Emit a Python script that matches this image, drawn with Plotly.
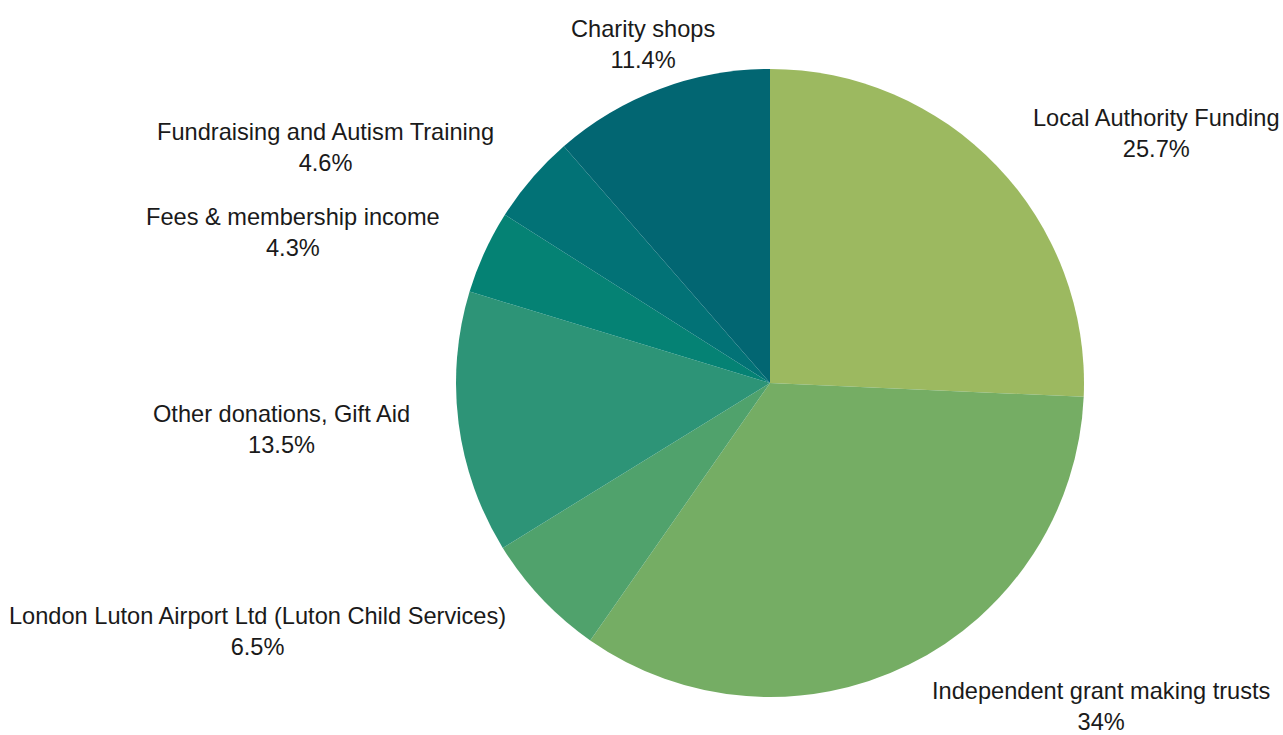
import math
import plotly.graph_objects as go

categories = [
    "Local Authority Funding",
    "Independent grant making trusts",
    "London Luton Airport Ltd (Luton Child Services)",
    "Other donations, Gift Aid",
    "Fees & membership income",
    "Fundraising and Autism Training",
    "Charity shops",
]
values = [25.7, 34, 6.5, 13.5, 4.3, 4.6, 11.4]
pct_labels = ["25.7%", "34%", "6.5%", "13.5%", "4.3%", "4.6%", "11.4%"]
colors = ["#9CB960", "#75AD64", "#50A26C", "#2D9477", "#058274", "#027276", "#026672"]

W, H = 1283, 735
cx, cy, R = 770, 383, 314  # pixel layout of the pie
dom_x = [(cx - R) / W, (cx + R) / W]
dom_y = [(H - cy - R) / H, (H - cy + R) / H]

fig = go.Figure(go.Pie(
    labels=categories,
    values=values,
    sort=False,
    direction="clockwise",
    rotation=0,
    marker=dict(colors=colors, line=dict(width=0)),
    textinfo="none",
    hoverinfo="label+percent",
    domain=dict(x=dom_x, y=dom_y),
    showlegend=False,
))

# label positions derived from slice mid-angles
total = sum(values)
cum = 0.0
annotations = []
for name, v, pct in zip(categories, values, pct_labels):
    mid = (cum + v / 2) / total * 2 * math.pi
    cum += v
    s, c = math.sin(mid), math.cos(mid)
    px = cx + 1.15 * R * s
    py = cy - 1.15 * R * c
    if abs(s) < 0.4:
        xa = "center"
    elif s > 0:
        xa = "left"
    else:
        xa = "right"
    annotations.append(dict(
        x=px / W, y=(H - py) / H, xref="paper", yref="paper",
        text=f"{name}<br>{pct}", showarrow=False,
        xanchor=xa, yanchor="middle", align="center",
        font=dict(family="Liberation Sans, Arial, sans-serif", size=23.6, color="#1a1a1a"),
    ))

fig.update_layout(
    width=W, height=H,
    margin=dict(l=0, r=0, t=0, b=0),
    paper_bgcolor="white",
    plot_bgcolor="white",
    annotations=annotations,
)

fig.write_html(
    "out.html",
    config={"displayModeBar": False},
    post_script="document.body.style.margin='0';document.body.style.overflow='hidden';",
)
